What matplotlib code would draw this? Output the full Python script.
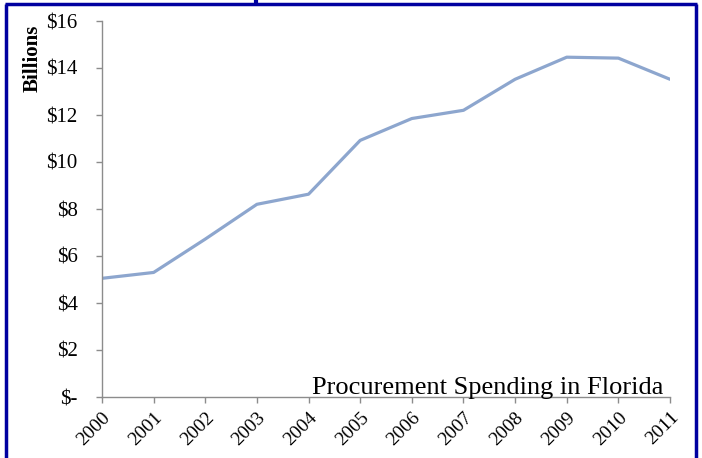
import matplotlib
matplotlib.use("Agg")
import matplotlib.pyplot as plt
from matplotlib.lines import Line2D

years = [2000, 2001, 2002, 2003, 2004, 2005, 2006, 2007, 2008, 2009, 2010, 2011]
spending = [5.05, 5.3, 6.72, 8.2, 8.63, 10.92, 11.85, 12.2, 13.52, 14.46, 14.42, 13.52]
yticks = [0, 2, 4, 6, 8, 10, 12, 14, 16]
ytick_labels = ["$-", "$2", "$4", "$6", "$8", "$10", "$12", "$14", "$16"]

W, H = 702, 458
fig = plt.figure(figsize=(W / 100, H / 100), dpi=100)
ax = fig.add_axes([102 / W, 1 - 397 / H, (670 - 102) / W, (397 - 21) / H])

ax.plot(years, spending, color="#8DA6CE", lw=2.3, solid_capstyle="round")
ax.set_xlim(2000, 2011)
ax.set_ylim(0, 16)
ax.set_xticks(years)
ax.set_xticklabels([str(y) for y in years], rotation=45, ha="right",
                   rotation_mode="anchor", fontsize=14, family="Liberation Serif")
ax.set_yticks(yticks)
ax.set_yticklabels(ytick_labels, fontsize=15, family="Liberation Serif")
for s in ["top", "right"]:
    ax.spines[s].set_visible(False)
for s in ["left", "bottom"]:
    ax.spines[s].set_color("#8C8C8C")
    ax.spines[s].set_linewidth(1.0)
ax.tick_params(axis="both", colors="#8C8C8C", labelcolor="black", length=4.5, width=1)
ax.tick_params(axis="y", pad=13)
ax.tick_params(axis="x", pad=4)

ax.text(663 / W, 1 - 399 / H, "Procurement Spending in Florida", transform=fig.transFigure,
        ha="right", va="bottom", fontsize=19, family="Liberation Serif")

fig.text(33 / W, 1 - 58 / H, "Billions", rotation=90, ha="center", va="center",
         fontsize=15, fontweight="bold", family="Liberation Serif")

c = "#0000A0"
def fl(x0, y0, x1, y1, lw=2.5):
    fig.add_artist(Line2D([x0 / W, x1 / W], [1 - y0 / H, 1 - y1 / H], color=c, lw=lw,
                          transform=fig.transFigure, solid_capstyle="butt"))
fl(6, 4, 6, 458)
fl(5, 4, 697, 4)
fl(696, 4, 696, 458)
fl(255.5, 0, 255.5, 4, lw=3)

fig.savefig("out.png", dpi=100)
